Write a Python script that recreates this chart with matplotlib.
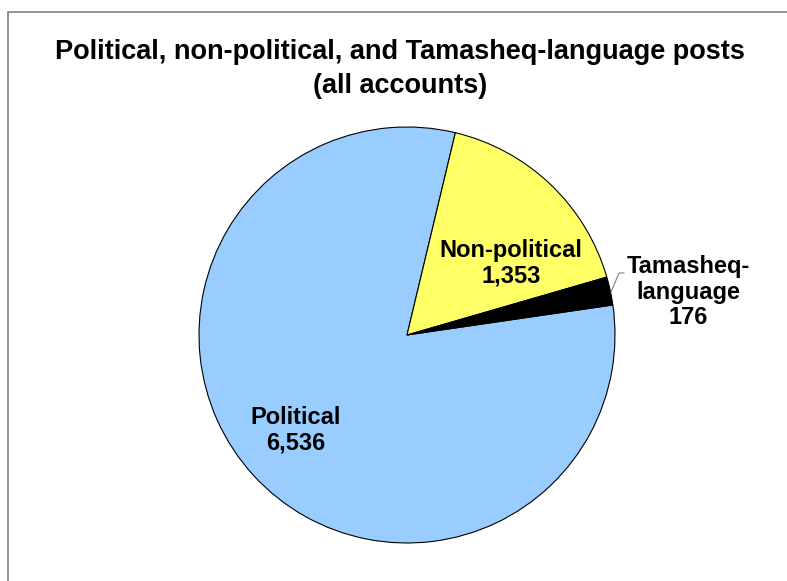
import matplotlib.pyplot as plt
from matplotlib.patches import Rectangle

plt.rcParams['font.family'] = ['Liberation Sans', 'DejaVu Sans']

labels = ["Political", "Non-political", "Tamasheq-\nlanguage"]
counts = [6536, 1353, 176]
colors = ["#99ccff", "#ffff66", "#000000"]

W, H = 787, 581
fig = plt.figure(figsize=(W / 100, H / 100), dpi=100)

# chart frame, only top and left edges fall inside the image
fig.patches.append(Rectangle((8 / W, -0.1), 1.1, (H - 12) / H + 0.1,
                             transform=fig.transFigure, fill=False,
                             edgecolor="#808080", linewidth=1.2))

fig.text(0.508, (H - 69) / H, "Political, non-political, and Tamasheq-language posts\n(all accounts)",
         ha="center", va="center", fontsize=19.5, fontweight="bold", linespacing=1.4)

cx, cy, r = 407, 335, 208
ax = fig.add_axes([(cx - r) / W, (H - cy - r) / H, 2 * r / W, 2 * r / H])
wedges, _ = ax.pie(counts, colors=colors, startangle=8.3, counterclock=False,
                   wedgeprops=dict(edgecolor="black", linewidth=0.8))
ax.set_xlim(-1, 1)
ax.set_ylim(-1, 1)
ax.set_aspect("equal")
ax.axis("off")


def px(x, y):
    # pixel position -> axes data coordinates
    return (x - cx) / r, (cy - y) / r


txt = dict(ha="center", va="center", fontsize=17, fontweight="bold", linespacing=1.12)
ax.text(*px(296, 430), "%s\n%s" % (labels[0], format(counts[0], ",")), **txt)
ax.text(*px(511, 263), "%s\n%s" % (labels[1], format(counts[1], ",")), **txt)
ax.text(*px(688, 292), "%s\n%s" % (labels[2], format(counts[2], ",")), clip_on=False, **txt)

# leader line from the small slice to its label
lx, ly = zip(px(611, 292), px(619, 273), px(624, 273))
ax.plot(lx, ly, color="#808080", linewidth=0.8, clip_on=False)

fig.savefig("out.png", dpi=100)
